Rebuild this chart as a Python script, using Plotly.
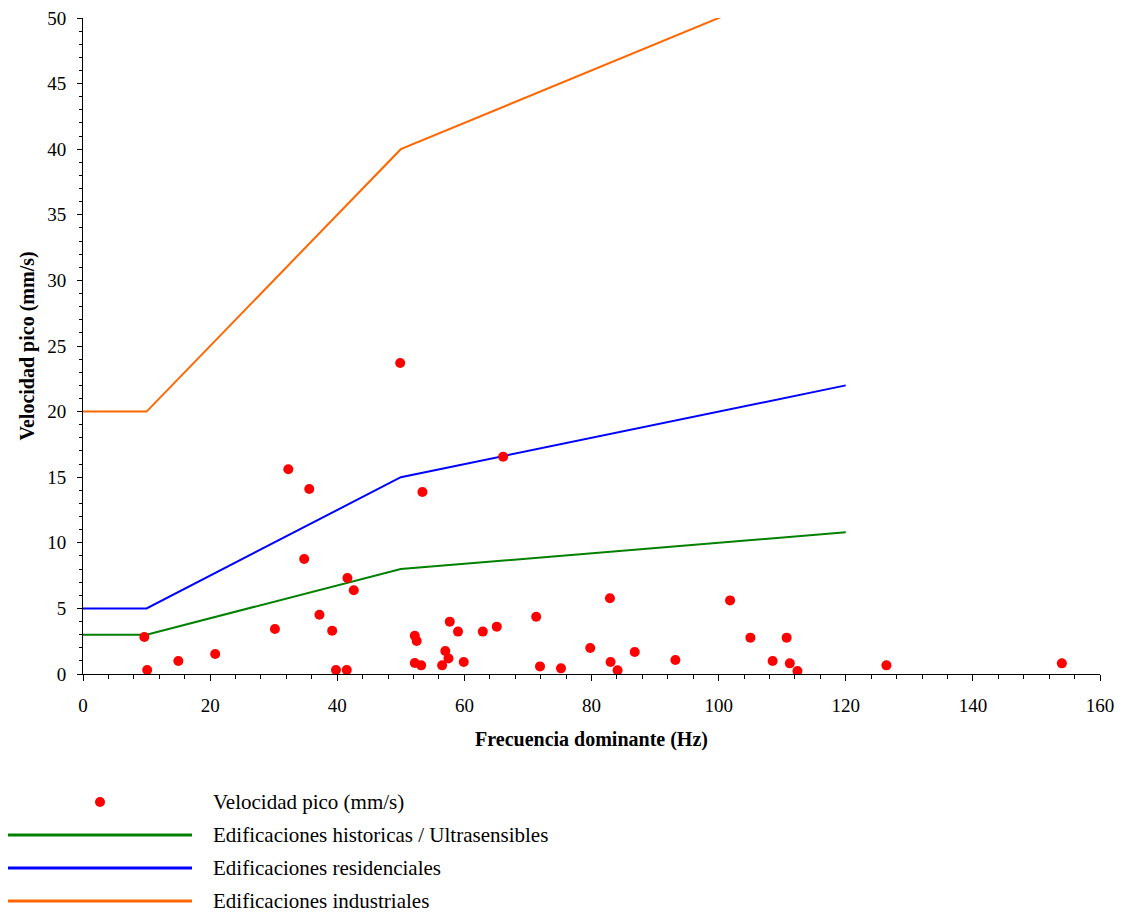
import plotly.graph_objects as go

# Measured points: dominant frequency (Hz) and peak velocity (mm/s)
freq = [32.3, 35.6, 34.8, 41.6, 42.6, 37.2, 30.2, 39.2, 9.65, 20.8, 15.0, 10.1, 39.8, 41.5,
        66.1, 53.4, 82.9, 71.3, 57.7, 65.1, 59.0, 62.9, 52.2, 52.5, 79.8, 86.8, 57.0, 57.5,
        52.2, 53.2, 56.5, 59.9, 71.9, 75.2, 83.0, 84.1,
        93.2, 101.8, 105.0, 110.7, 108.5, 111.2, 112.4, 126.4, 154.0, 49.9]
vel = [15.6, 14.1, 8.77, 7.32, 6.38, 4.52, 3.43, 3.30, 2.82, 1.52, 0.99, 0.30, 0.30, 0.30,
       16.56, 13.87, 5.77, 4.37, 3.99, 3.61, 3.23, 3.23, 2.92, 2.51, 1.98, 1.68, 1.75, 1.19,
       0.84, 0.66, 0.66, 0.91, 0.58, 0.43, 0.91, 0.28,
       1.07, 5.61, 2.77, 2.77, 0.99, 0.81, 0.23, 0.66, 0.81, 23.7]

# Limit curves
lim_x = [0, 10, 50, 120]
hist_y = [3, 3, 8, 10.8]
resid_y = [5, 5, 15, 22]
indus_y = [20, 20, 40, 54]

names = ["Velocidad pico (mm/s)", "Edificaciones historicas / Ultrasensibles",
         "Edificaciones residenciales", "Edificaciones industriales"]
colors = ["#FF0000", "#008000", "#0000FF", "#FF6600"]

FONT = "Liberation Serif, Times New Roman, serif"

fig = go.Figure()
fig.add_trace(go.Scatter(x=lim_x, y=hist_y, mode="lines", name=names[1],
                         line=dict(color=colors[1], width=2), showlegend=False))
fig.add_trace(go.Scatter(x=lim_x, y=resid_y, mode="lines", name=names[2],
                         line=dict(color=colors[2], width=2), showlegend=False))
fig.add_trace(go.Scatter(x=lim_x, y=indus_y, mode="lines", name=names[3],
                         line=dict(color=colors[3], width=2), showlegend=False))
fig.add_trace(go.Scatter(x=freq, y=vel, mode="markers", name=names[0],
                         marker=dict(color=colors[0], size=10), showlegend=False))

W, H = 1125, 913
L, R, T, B = 83, 25, 18, 239
pw, ph = W - L - R, H - T - B

def px(x):
    return (x - L) / pw

def py(y):
    return (H - B - y) / ph

# Manual legend (long line samples as in the reference)
leg_y = [802, 835, 868, 901]
shapes = []
annotations = []
shapes.append(dict(type="circle", xref="paper", yref="paper",
                   x0=px(95), x1=px(105), y0=py(807), y1=py(797),
                   fillcolor=colors[0], line=dict(color=colors[0], width=0)))
for i in range(1, 4):
    shapes.append(dict(type="line", xref="paper", yref="paper",
                       x0=px(8), x1=px(192), y0=py(leg_y[i]), y1=py(leg_y[i]),
                       line=dict(color=colors[i], width=3)))
for i in range(4):
    annotations.append(dict(xref="paper", yref="paper", x=px(211), y=py(leg_y[i]),
                            text=names[i], showarrow=False, xanchor="left", yanchor="middle",
                            font=dict(family=FONT, size=21, color="black")))

fig.update_layout(
    width=W, height=H,
    margin=dict(l=L, r=R, t=T, b=B, autoexpand=False),
    paper_bgcolor="white", plot_bgcolor="white",
    font=dict(family=FONT, size=19, color="black"),
    shapes=shapes, annotations=annotations,
    showlegend=False,
)
fig.update_xaxes(range=[0, 160], dtick=20, tick0=0, showgrid=False, zeroline=False,
                 showline=True, linecolor="black", linewidth=1, automargin=False,
                 ticks="outside", ticklen=6, tickcolor="black",
                 minor=dict(dtick=4, ticks="outside", ticklen=4, tickcolor="black", showgrid=False),
                 tickfont=dict(family=FONT, size=19), ticklabelstandoff=8,
                 title=dict(text="<b>Frecuencia dominante (Hz)</b>", standoff=17,
                            font=dict(family=FONT, size=20)))
fig.update_yaxes(range=[0, 50], dtick=5, tick0=0, showgrid=False, zeroline=False,
                 showline=True, linecolor="black", linewidth=1, automargin=False,
                 ticks="outside", ticklen=5, tickcolor="black",
                 minor=dict(dtick=1, ticks="outside", ticklen=3, tickcolor="black", showgrid=False),
                 tickfont=dict(family=FONT, size=19), ticklabelstandoff=7,
                 title=dict(text="<b>Velocidad pico (mm/s)</b>", standoff=7,
                            font=dict(family=FONT, size=20)))

fig.write_html("out.html")
